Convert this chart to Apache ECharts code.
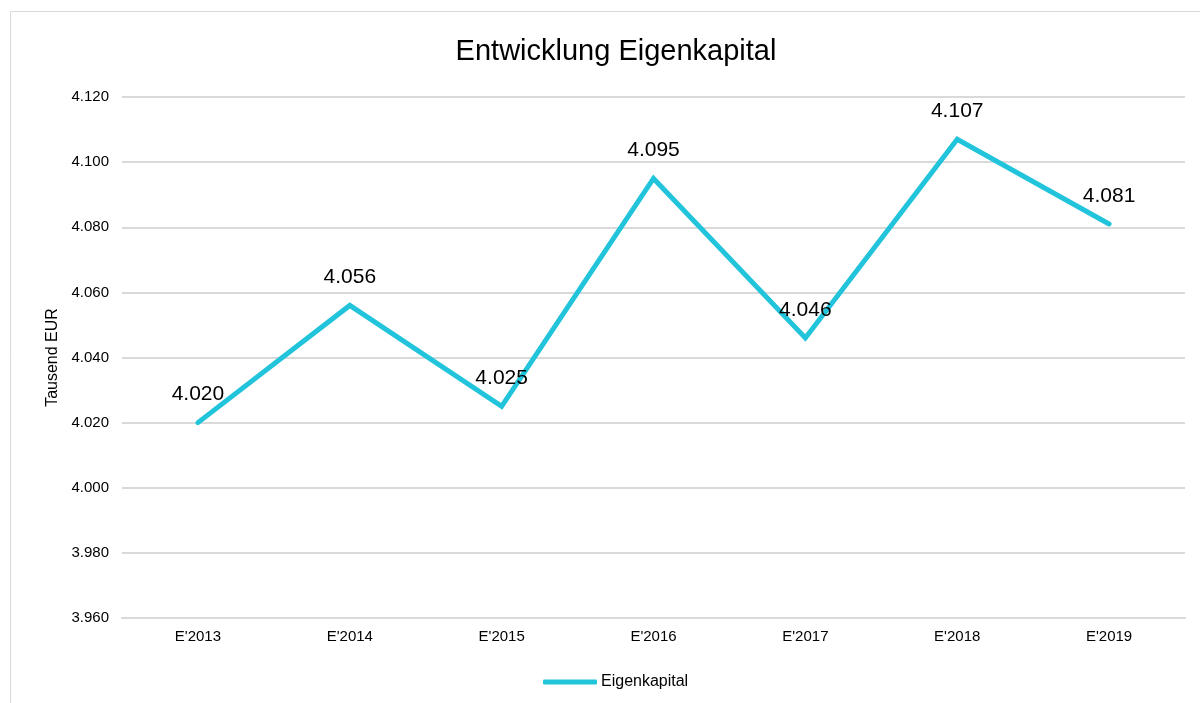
<!DOCTYPE html>
<html>
<head>
<meta charset="utf-8">
<script src="https://cdn.jsdelivr.net/npm/echarts@6/dist/echarts.min.js"></script>
<style>
  html, body { margin: 0; padding: 0; background: #fff; }
  #chart { width: 1200px; height: 703px; }
</style>
</head>
<body>
<div id="chart"></div>
<script>
// Daten (Tausend EUR)
var jahre = ["E'2013", "E'2014", "E'2015", "E'2016", "E'2017", "E'2018", "E'2019"];
var eigenkapital = [4020, 4056, 4025, 4095, 4046, 4107, 4081];
var yMin = 3960, yMax = 4120, yStep = 20;

var fmt = function (v) {
    // deutsches Format mit Punkt als Tausendertrenner
    var s = String(Math.round(v));
    return s.replace(/\B(?=(\d{3})+(?!\d))/g, '.');
};

var font = 'Liberation Sans, Arial, sans-serif';
var chart = echarts.init(document.getElementById('chart'));

chart.setOption({
    animation: false,
    title: {
        text: 'Entwicklung Eigenkapital',
        left: 611,
        textAlign: 'center',
        top: 32,
        textStyle: { fontFamily: font, fontSize: 29, fontWeight: 'normal', color: '#000' }
    },
    graphic: [{
        type: 'rect',
        shape: { x: 10.5, y: 11.5, width: 1200, height: 700 },
        style: { fill: 'none', stroke: '#d9d9d9', lineWidth: 1 },
        silent: true
    }],
    legend: {
        data: ['Eigenkapital'],
        left: 538,
        top: 669,
        itemWidth: 54,
        itemHeight: 5,
        itemGap: 4,
        icon: 'roundRect',
        textStyle: { fontFamily: font, fontSize: 16, color: '#000', padding: [0, 0, 0, -1] }
    },
    grid: { left: 122, right: 15, top: 97, bottom: 85 },
    xAxis: {
        type: 'category',
        data: jahre,
        axisLine: { lineStyle: { color: '#d9d9d9', width: 2 } },
        axisTick: { show: false },
        axisLabel: { fontFamily: font, fontSize: 15, color: '#000', margin: 11 }
    },
    yAxis: {
        type: 'value',
        min: yMin,
        max: yMax,
        interval: yStep,
        name: 'Tausend EUR',
        nameLocation: 'middle',
        nameGap: 57,
        nameTextStyle: { fontFamily: font, fontSize: 16, color: '#000' },
        axisLine: { show: false },
        axisTick: { show: false },
        splitLine: { lineStyle: { color: '#d9d9d9', width: 2 } },
        axisLabel: { fontFamily: font, fontSize: 15, color: '#000', margin: 13, formatter: fmt }
    },
    series: [{
        name: 'Eigenkapital',
        type: 'line',
        data: eigenkapital,
        symbol: 'circle',
        symbolSize: 1,
        showSymbol: true,
        lineStyle: { color: '#21c4da', width: 5, cap: 'round', join: 'miter' },
        itemStyle: { color: '#21c4da' },
        label: {
            show: true,
            position: 'top',
            distance: 17,
            fontFamily: font,
            fontSize: 21,
            color: '#000',
            formatter: function (p) { return fmt(p.value); }
        }
    }]
});
</script>
</body>
</html>
